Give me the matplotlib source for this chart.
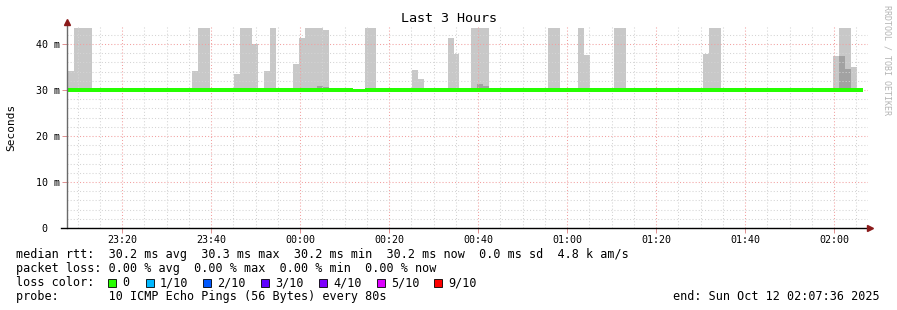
import numpy as np
import matplotlib.pyplot as plt
from matplotlib.patches import Rectangle

plt.rcParams['font.family'] = ['DejaVu Sans Mono']

# time axis in minutes after 23:00, rrd step is 80 s
t_first = 6 + 28 / 60          # 23:06:28, first step
step = 80 / 60
t_start, t_end = 7.6, 187.6    # 23:07:36 .. 02:07:36

# median rtt per step (ms)
median = [
    30.2, 30.2, 30.2, 30.2, 30.2, 30.2, 30.2, 30.2, 30.2, 30.2, 30.2, 30.2, 30.2, 30.2, 30.2, 30.2, 30.2, 30.2, 30.2, 30.2,
    30.2, 30.2, 30.2, 30.2, 30.2, 30.2, 30.2, 30.2, 30.2, 30.2, 30.2, 30.2, 30.2, 30.2, 30.2, 30.2, 30.2, 30.2, 30.2, 30.2,
    30.2, 30.2, 30.2, 30.2, 30.2, 30.2, 30.2, 30.2, 30.2, 30.0, 30.0, 30.2, 30.2, 30.2, 30.2, 30.2, 30.2, 30.2, 30.2, 30.2,
    30.2, 30.2, 30.2, 30.2, 30.2, 30.2, 30.2, 30.2, 30.2, 30.2, 30.2, 30.2, 30.2, 30.2, 30.2, 30.2, 30.2, 30.2, 30.2, 30.2,
    30.2, 30.2, 30.2, 30.2, 30.2, 30.2, 30.2, 30.2, 30.2, 30.2, 30.2, 30.2, 30.2, 30.2, 30.2, 30.2, 30.2, 30.2, 30.2, 30.2,
    30.2, 30.2, 30.2, 30.2, 30.2, 30.2, 30.2, 30.2, 30.2, 30.2, 30.2, 30.2, 30.2, 30.2, 30.2, 30.2, 30.2, 30.2, 30.2, 30.2,
    30.2, 30.2, 30.2, 30.2, 30.2, 30.2, 30.2, 30.2, 30.2, 30.2, 30.2, 30.2, 30.2, 30.2, 30.2,
]

# smoke: outer ping (max) per step, inner ping pair where visible
smoke_step = [1, 2, 3, 4, 22, 23, 24, 29, 30, 31, 32, 34, 35, 39, 40, 41, 42, 43, 44, 51, 52,
              59, 60, 65, 66, 69, 70, 71, 82, 83, 87, 88, 93, 94, 108, 109, 110, 130, 131, 132, 133]
smoke_max = [34.1, 43.5, 43.5, 43.5, 34.1, 43.5, 43.5, 33.5, 43.5, 43.5, 39.9, 34.1, 43.5, 35.7, 41.3,
             43.5, 43.5, 43.5, 43.0, 43.5, 43.5, 34.3, 32.4, 41.3, 37.8, 43.5, 43.5, 43.5, 43.5, 43.5,
             43.5, 37.6, 43.5, 43.5, 37.8, 43.5, 43.5, 37.4, 43.5, 43.5, 35.0]
dark_step = [43, 44, 70, 71, 131, 132]
dark_max = [30.9, 30.6, 31.3, 30.9, 37.4, 34.6]

x_ticks = [20, 40, 60, 80, 100, 120, 140, 160, 180]
x_labels = ["23:20", "23:40", "00:00", "00:20", "00:40", "01:00", "01:20", "01:40", "02:00"]
y_ticks = [0, 10, 20, 30, 40]
y_labels = ["0  ", "10 m", "20 m", "30 m", "40 m"]

rtt_stats = ["30.2 ms avg", "30.3 ms max", "30.2 ms min", "30.2 ms now", "0.0 ms sd", "4.8 k am/s"]
loss_stats = ["0.00 % avg", "0.00 % max", "0.00 % min", "0.00 % now"]
loss_names = ["0", "1/10", "2/10", "3/10", "4/10", "5/10", "9/10"]
loss_colors = ["#26ff00", "#00b8ff", "#0059ff", "#5e00ff", "#7e00ff", "#dd00ff", "#ff0000"]

W, H = 897, 310
fig = plt.figure(figsize=(W / 100, H / 100), dpi=100)
ax = fig.add_axes([67 / W, (H - 228) / H, 801 / W, 202 / H])

n = len(median)
edges = t_first + step * np.arange(n + 1)
med = np.array(median)


def stepped(v):
    v = np.asarray(v, float)
    return np.append(v, v[-1])


# steps without smoke collapse onto the median (zero height)
top = med.copy()
top[smoke_step] = smoke_max
inner = med.copy()
inner[dark_step] = dark_max

ax.fill_between(edges, stepped(med), stepped(top), step='post', color='#c8c8c8', lw=0, zorder=1)
ax.fill_between(edges, stepped(med), stepped(inner), step='post', color='#a2a2a2', lw=0, zorder=1.2)
# median line coloured by loss (all zero loss here)
ax.fill_between(edges, 29.6, stepped(med + 0.25), step='post',
                color=loss_colors[0], lw=0, zorder=3)

ax.set_xlim(t_start, t_end)
ax.set_ylim(0, 43.9)
ax.set_xticks(x_ticks)
ax.set_xticklabels(x_labels)
ax.set_xticks(np.arange(10, 188, 5), minor=True)
ax.set_yticks(y_ticks)
ax.set_yticklabels(y_labels)
ax.set_yticks(np.arange(2, 44, 2), minor=True)

ax.grid(which='minor', color='#d4d4d4', lw=0.75, ls=(0, (1, 2)))
ax.grid(which='major', color='#f2a0a0', lw=0.75, ls=(0, (1, 2)))
ax.set_axisbelow(False)
for gl in ax.get_xgridlines() + ax.get_ygridlines():
    gl.set_zorder(2)

ax.tick_params(which='major', length=3.5, width=0.7, color='#e09090', labelsize=7.2, pad=1.5)
ax.tick_params(which='minor', length=0)
for s in ax.spines.values():
    s.set_visible(False)

# axes with arrows
ax.plot([0, 0], [0, 1.02], transform=ax.transAxes, color='#6a6a6a', lw=1, clip_on=False, zorder=4)
ax.plot([-6 / 801, 1.0], [0, 0], transform=ax.transAxes, color='black', lw=1, clip_on=False, zorder=4)
ax.plot(0, 1.02, '^', ms=4, color='#8b1a1a', transform=ax.transAxes, clip_on=False, zorder=5)
ax.plot(1.0025, 0, '>', ms=4, color='#8b1a1a', transform=ax.transAxes, clip_on=False, zorder=5)

fig.text(0.5, 1 - 19 / H, "Last 3 Hours", ha='center', va='center', size=9.6)
fig.text(11 / W, 1 - 127 / H, "Seconds", rotation=90, ha='center', va='center', size=8)
fig.text(887 / W, 1 - 5 / H, "RRDTOOL / TOBI OETIKER", rotation=270, ha='center', va='top',
         color='#b4b4b4', size=6)

fs = 8.5
fig.text(16 / W, 1 - 254.5 / H, "median rtt:  " + "  ".join(rtt_stats), va='center', size=fs)
fig.text(16 / W, 1 - 268.3 / H, "packet loss: " + "  ".join(loss_stats), va='center', size=fs)
fig.text(16 / W, 1 - 282.5 / H, "loss color:", va='center', size=fs)
box_x = [108, 146, 203, 261, 319, 377, 434]
for bx, name, c in zip(box_x, loss_names, loss_colors):
    fig.patches.append(Rectangle((bx / W, 1 - 286.5 / H), 8 / W, 8 / H, transform=fig.transFigure,
                                 facecolor=c, edgecolor='black', lw=0.6))
    fig.text((bx + 14) / W, 1 - 282.5 / H, name, va='center', size=fs)
fig.text(16 / W, 1 - 296.3 / H, "probe:       10 ICMP Echo Pings (56 Bytes) every 80s", va='center', size=fs)
fig.text(880 / W, 1 - 296.3 / H, "end: Sun Oct 12 02:07:36 2025", ha='right', va='center', size=fs)

fig.savefig("out.png", dpi=100)
